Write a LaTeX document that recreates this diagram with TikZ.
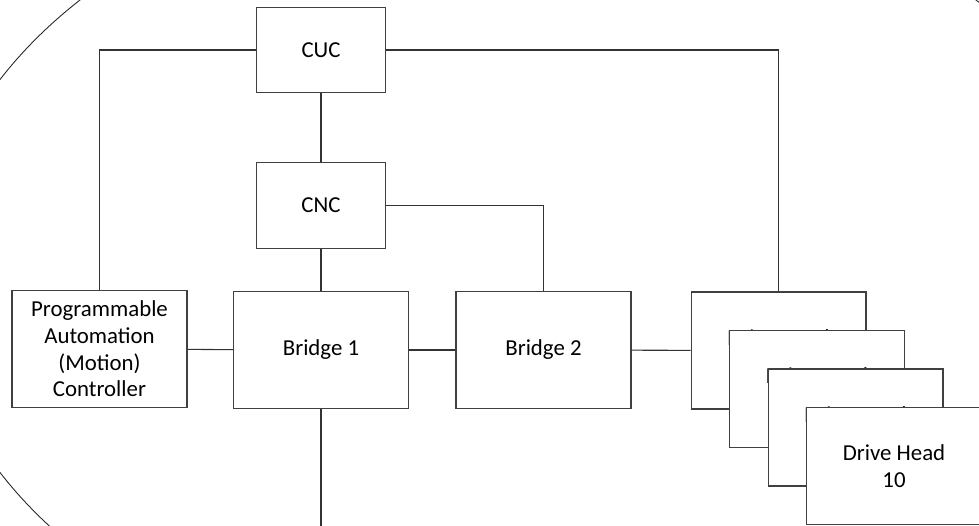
\documentclass[tikz,border=0pt]{standalone}
\usepackage{fontspec}
\setmainfont{Carlito}
\usepackage{tikz}
\usetikzlibrary{positioning}

\begin{document}
\begin{tikzpicture}[x=0.02cm,y=-0.02cm,line width=0.6pt,
    blk/.style={draw=black!75,fill=white,align=center,inner sep=0pt,minimum width=3.5cm,minimum height=2.34cm},
    ctl/.style={blk,minimum width=2.58cm,minimum height=1.71cm},
    wire/.style={draw=black!80}]
        \fontsize{13}{15.2}\selectfont
        \useasboundingbox (0,0) rectangle (979,525);
        \clip (0,0) rectangle (979,525);
        % outer boundary
        \draw[black!85,line width=0.5pt] (528,276) ellipse [x radius=11.98cm, y radius=8.32cm];
        % control units
        \node[ctl] (CUC) at (321,50) {CUC};
        \node[ctl] (CNC) at (321,205.5) {CNC};
        % main row
        \node[blk] (PAC) at (99.5,349) {Programmable\\Automation\\(Motion)\\Controller};
        \node[blk] (B1) at (321,350) {Bridge 1};
        \node[blk] (B2) at (543.5,350) {Bridge 2};
        % drive heads, stacked
        \node[blk] (DH1) at (778.5,350.5) {Drive Head\\1};
        \node[blk] (DH2) at (817,389) {Drive Head\\2};
        \node[blk] (DH3) at (855.5,427.5) {Drive Head\\3};
        \node[blk] (DH4) at (894,466) {Drive Head\\10};
        \coordinate (B1out) at (321,530);
        % connections
        \path[wire] (CUC) edge (CNC);
        \path[wire] (CNC) edge (B1);
        \draw[wire] (CUC) -| (PAC);
        \draw[wire] (CUC) -| (DH1);
        \draw[wire] (CNC) -| (B2);
        \path[wire] (PAC) edge (B1);
        \path[wire] (B1) edge (B2);
        \path[wire] (B2) edge (DH1);
        \path[wire] (B1) edge (B1out);
      \end{tikzpicture}
\end{document}
